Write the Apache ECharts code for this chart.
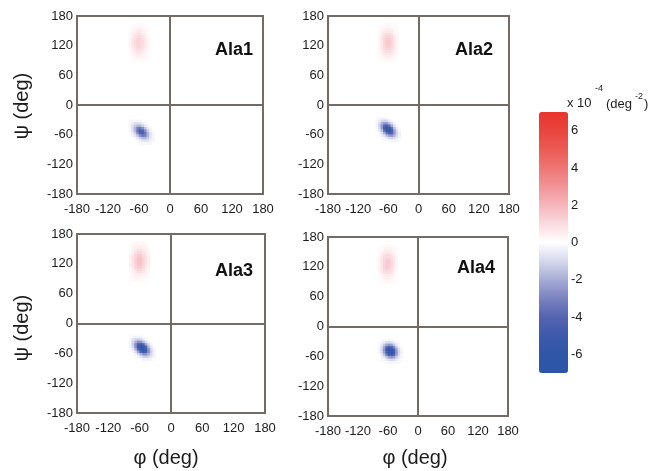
<!DOCTYPE html>
<html><head><meta charset="utf-8">
<script src="https://cdn.jsdelivr.net/npm/echarts@6/dist/echarts.min.js"></script>
<style>html,body{margin:0;padding:0;background:#fff}#c{width:651px;height:471px}</style>
</head><body><div id="c"></div>
<script>
// ---------------- data ----------------
const panelNames = ['Ala1', 'Ala2', 'Ala3', 'Ala4'];
const axisTicks = [-180, -120, -60, 0, 60, 120, 180];
const colorbarTicks = [-6, -4, -2, 0, 2, 4, 6];
const colorRange = [-7, 7];
const cellDeg = 5;
const xAxisTitle = 'φ (deg)';
const yAxisTitle = 'ψ (deg)';

// centre (phi, psi) of the top-left cell of each matrix
const blueOrigin = [[-77.5, -32.5], [-82.5, -27.5], [-77.5, -27.5], [-77.5, -27.5]];
const redOrigin = [[-77.5, 162.5], [-77.5, 162.5], [-77.5, 162.5], [-77.5, 162.5]];

// negative density difference (alpha-helix region), 5 deg cells, rows = psi decreasing
const blueAla1 = [
  [-0.1,-0.2,-0.2,-0.2,-0.2,-0.1,0,0,0,0],
  [-0.2,-0.4,-0.7,-0.8,-0.7,-0.4,-0.2,0,0,0],
  [-0.2,-0.7,-1.3,-1.8,-1.8,-1.2,-0.6,-0.2,0,0],
  [-0.2,-0.8,-1.8,-3.0,-3.4,-2.7,-1.5,-0.6,-0.2,0],
  [-0.2,-0.7,-1.8,-3.4,-4.6,-4.2,-2.7,-1.2,-0.4,-0.1],
  [-0.1,-0.4,-1.2,-2.7,-4.2,-4.6,-3.4,-1.8,-0.7,-0.2],
  [0,-0.2,-0.6,-1.5,-2.7,-3.4,-3.0,-1.8,-0.8,-0.2],
  [0,0,-0.2,-0.6,-1.2,-1.8,-1.8,-1.3,-0.7,-0.2],
  [0,0,0,-0.2,-0.4,-0.7,-0.8,-0.7,-0.4,-0.2],
  [0,0,0,0,-0.1,-0.2,-0.2,-0.2,-0.2,-0.1]
];
const blueAla2 = [
  [-0.1,-0.2,-0.3,-0.3,-0.2,-0.1,0,0,0,0],
  [-0.2,-0.5,-0.9,-1.1,-0.9,-0.5,-0.2,-0.1,0,0],
  [-0.3,-0.9,-1.8,-2.5,-2.4,-1.6,-0.8,-0.3,-0.1,0],
  [-0.3,-1.1,-2.5,-4.0,-4.6,-3.6,-2.0,-0.8,-0.2,0],
  [-0.2,-0.9,-2.4,-4.6,-6.1,-5.6,-3.6,-1.6,-0.5,-0.1],
  [-0.1,-0.5,-1.6,-3.6,-5.6,-6.1,-4.6,-2.4,-0.9,-0.2],
  [0,-0.2,-0.8,-2.0,-3.6,-4.6,-4.0,-2.5,-1.1,-0.3],
  [0,-0.1,-0.3,-0.8,-1.6,-2.4,-2.5,-1.8,-0.9,-0.3],
  [0,0,-0.1,-0.2,-0.5,-0.9,-1.1,-0.9,-0.5,-0.2],
  [0,0,0,0,-0.1,-0.2,-0.3,-0.3,-0.2,-0.1]
];
const blueAla3 = [
  [-0.1,-0.2,-0.3,-0.3,-0.3,-0.1,0,0,0,0],
  [-0.2,-0.6,-1.0,-1.2,-1.0,-0.6,-0.2,-0.1,0,0],
  [-0.3,-1.0,-1.9,-2.7,-2.6,-1.8,-0.9,-0.3,-0.1,0],
  [-0.3,-1.2,-2.7,-4.4,-5.0,-4.0,-2.2,-0.9,-0.2,0],
  [-0.3,-1.0,-2.6,-5.0,-6.6,-6.2,-4.0,-1.8,-0.6,-0.1],
  [-0.1,-0.6,-1.8,-4.0,-6.2,-6.6,-5.0,-2.6,-1.0,-0.3],
  [0,-0.2,-0.9,-2.2,-4.0,-5.0,-4.4,-2.7,-1.2,-0.3],
  [0,-0.1,-0.3,-0.9,-1.8,-2.6,-2.7,-1.9,-1.0,-0.3],
  [0,0,-0.1,-0.2,-0.6,-1.0,-1.2,-1.0,-0.6,-0.2],
  [0,0,0,0,-0.1,-0.3,-0.3,-0.3,-0.2,-0.1]
];
const blueAla4 = [
  [0,-0.1,-0.2,-0.2,-0.3,-0.2,-0.1,0,0,0],
  [-0.1,-0.2,-0.5,-0.9,-1.0,-0.8,-0.5,-0.2,-0.1,0],
  [-0.2,-0.5,-1.3,-2.2,-2.6,-2.3,-1.4,-0.6,-0.2,0],
  [-0.2,-0.9,-2.2,-3.9,-4.9,-4.5,-3.0,-1.4,-0.5,-0.1],
  [-0.3,-1.0,-2.6,-4.9,-6.7,-6.5,-4.5,-2.3,-0.8,-0.2],
  [-0.2,-0.8,-2.3,-4.5,-6.5,-6.7,-4.9,-2.6,-1.0,-0.3],
  [-0.1,-0.5,-1.4,-3.0,-4.5,-4.9,-3.9,-2.2,-0.9,-0.2],
  [0,-0.2,-0.6,-1.4,-2.3,-2.6,-2.2,-1.3,-0.5,-0.2],
  [0,-0.1,-0.2,-0.5,-0.8,-1.0,-0.9,-0.5,-0.2,-0.1],
  [0,0,0,-0.1,-0.2,-0.3,-0.2,-0.2,-0.1,0]
];

// positive density difference (PPII / beta region), 5 deg cells
const redAla1 = [
  [0,0.1,0.1,0.1,0.1,0.1,0.1,0],
  [0.1,0.1,0.2,0.2,0.2,0.2,0.1,0.1],
  [0.1,0.2,0.3,0.4,0.4,0.3,0.2,0.1],
  [0.1,0.3,0.4,0.6,0.6,0.4,0.3,0.1],
  [0.2,0.4,0.6,0.8,0.8,0.6,0.4,0.2],
  [0.2,0.5,0.8,1.0,1.0,0.8,0.5,0.2],
  [0.3,0.6,0.9,1.2,1.2,0.9,0.6,0.3],
  [0.3,0.6,1.0,1.2,1.2,1.0,0.6,0.3],
  [0.3,0.6,1.0,1.2,1.2,1.0,0.6,0.3],
  [0.3,0.6,0.9,1.2,1.2,0.9,0.6,0.3],
  [0.2,0.5,0.8,1.0,1.0,0.8,0.5,0.2],
  [0.2,0.4,0.6,0.8,0.8,0.6,0.4,0.2],
  [0.1,0.3,0.4,0.6,0.6,0.4,0.3,0.1],
  [0.1,0.2,0.3,0.4,0.4,0.3,0.2,0.1],
  [0.1,0.1,0.2,0.2,0.2,0.2,0.1,0.1],
  [0,0.1,0.1,0.1,0.1,0.1,0.1,0]
];
const redAla2 = [
  [0,0.1,0.1,0.2,0.2,0.1,0.1,0],
  [0.1,0.1,0.2,0.3,0.3,0.2,0.1,0.1],
  [0.1,0.2,0.4,0.5,0.5,0.4,0.2,0.1],
  [0.2,0.3,0.6,0.7,0.7,0.6,0.3,0.2],
  [0.2,0.5,0.8,1.0,1.0,0.8,0.5,0.2],
  [0.3,0.6,1.0,1.2,1.2,1.0,0.6,0.3],
  [0.3,0.7,1.1,1.4,1.4,1.1,0.7,0.3],
  [0.3,0.7,1.2,1.5,1.5,1.2,0.7,0.3],
  [0.3,0.7,1.2,1.5,1.5,1.2,0.7,0.3],
  [0.3,0.7,1.1,1.4,1.4,1.1,0.7,0.3],
  [0.3,0.6,1.0,1.2,1.2,1.0,0.6,0.3],
  [0.2,0.5,0.8,1.0,1.0,0.8,0.5,0.2],
  [0.2,0.3,0.6,0.7,0.7,0.6,0.3,0.2],
  [0.1,0.2,0.4,0.5,0.5,0.4,0.2,0.1],
  [0.1,0.1,0.2,0.3,0.3,0.2,0.1,0.1],
  [0,0.1,0.1,0.2,0.2,0.1,0.1,0]
];
const redAla3 = [
  [0,0.1,0.2,0.2,0.2,0.2,0.1,0],
  [0.1,0.2,0.3,0.3,0.3,0.3,0.2,0.1],
  [0.1,0.3,0.4,0.5,0.5,0.4,0.3,0.1],
  [0.2,0.4,0.6,0.8,0.8,0.6,0.4,0.2],
  [0.2,0.5,0.8,1.1,1.1,0.8,0.5,0.2],
  [0.3,0.6,1.1,1.4,1.4,1.1,0.6,0.3],
  [0.4,0.8,1.2,1.6,1.6,1.2,0.8,0.4],
  [0.4,0.8,1.3,1.7,1.7,1.3,0.8,0.4],
  [0.4,0.8,1.3,1.7,1.7,1.3,0.8,0.4],
  [0.4,0.8,1.2,1.6,1.6,1.2,0.8,0.4],
  [0.3,0.6,1.1,1.4,1.4,1.1,0.6,0.3],
  [0.2,0.5,0.8,1.1,1.1,0.8,0.5,0.2],
  [0.2,0.4,0.6,0.8,0.8,0.6,0.4,0.2],
  [0.1,0.3,0.4,0.5,0.5,0.4,0.3,0.1],
  [0.1,0.2,0.3,0.3,0.3,0.3,0.2,0.1],
  [0,0.1,0.2,0.2,0.2,0.2,0.1,0]
];
const redAla4 = [
  [0,0.1,0.1,0.2,0.2,0.1,0.1,0],
  [0.1,0.1,0.2,0.3,0.3,0.2,0.1,0.1],
  [0.1,0.2,0.4,0.5,0.5,0.4,0.2,0.1],
  [0.2,0.3,0.6,0.7,0.7,0.5,0.3,0.1],
  [0.2,0.5,0.8,1.0,1.0,0.8,0.5,0.2],
  [0.3,0.6,1.0,1.2,1.2,1.0,0.6,0.3],
  [0.3,0.7,1.1,1.4,1.4,1.1,0.7,0.3],
  [0.3,0.7,1.2,1.5,1.5,1.2,0.7,0.3],
  [0.3,0.7,1.2,1.5,1.4,1.2,0.7,0.3],
  [0.3,0.7,1.1,1.4,1.3,1.0,0.6,0.3],
  [0.3,0.6,1.0,1.2,1.1,0.9,0.5,0.2],
  [0.2,0.5,0.8,0.9,0.9,0.7,0.4,0.2],
  [0.2,0.3,0.5,0.7,0.6,0.5,0.3,0.1],
  [0.1,0.2,0.4,0.5,0.4,0.3,0.2,0.1],
  [0.1,0.1,0.2,0.3,0.3,0.2,0.1,0.1],
  [0,0.1,0.1,0.2,0.1,0.1,0.1,0]
];
const blueData = [blueAla1, blueAla2, blueAla3, blueAla4];
const redData = [redAla1, redAla2, redAla3, redAla4];

// ---------------- layout / style ----------------
const rects = [
  {left: 77, top: 16, width: 186, height: 178},
  {left: 328, top: 16, width: 181, height: 178},
  {left: 77, top: 234, width: 188, height: 179},
  {left: 328, top: 237, width: 180, height: 179}
];
const titlePos = [[253, 50], [493, 50], [253, 271], [495, 268]];
const FONT = 'Liberation Sans, Arial, sans-serif';
const frameColor = '#736b66';
const textColor = '#1c1c1c';
const cmap = ['#2c55a8','#3056a8','#3d5aab','#5563b0','#7a82c0','#a7acd6','#d5d7ec','#ffffff',
              '#fadbdf','#f5b6bc','#f19498','#ee7674','#eb5a55','#e9443e','#e8342d'];

const nBins = 360 / cellDeg;
const binCats = [];
for (let k = 0; k < nBins; k++) binCats.push(String(-180 + cellDeg / 2 + k * cellDeg));

function toCells(matrix, origin, out) {
  matrix.forEach((row, j) => row.forEach((v, i) => {
    if (v === 0) return;
    const phi = origin[0] + i * cellDeg;
    const psi = origin[1] - j * cellDeg;
    out.push([Math.round((phi + 180 - cellDeg / 2) / cellDeg), Math.round((psi + 180 - cellDeg / 2) / cellDeg), v]);
  }));
  return out;
}

const grids = [], xAxes = [], yAxes = [], series = [], graphics = [];
const heatIdx = [];
rects.forEach((r, p) => {
  grids.push(Object.assign({}, r));
  grids.push(Object.assign({show: true, borderColor: frameColor, borderWidth: 2, backgroundColor: 'transparent'}, r));
  xAxes.push({type: 'category', gridIndex: 2 * p, data: binCats, show: false});
  yAxes.push({type: 'category', gridIndex: 2 * p, data: binCats, show: false});
  xAxes.push({type: 'value', gridIndex: 2 * p + 1, min: -180, max: 180, interval: 60,
    axisLine: {show: false}, axisTick: {show: false}, splitLine: {show: false},
    axisLabel: {color: textColor, fontSize: 13, fontFamily: FONT, margin: 9}});
  yAxes.push({type: 'value', gridIndex: 2 * p + 1, min: -180, max: 180, interval: 60,
    axisLine: {show: false}, axisTick: {show: false}, splitLine: {show: false},
    axisLabel: {color: textColor, fontSize: 13, fontFamily: FONT, margin: 4}});
  const cells = [];
  toCells(blueData[p], blueOrigin[p], cells);
  toCells(redData[p], redOrigin[p], cells);
  heatIdx.push(series.length);
  series.push({type: 'heatmap', name: panelNames[p], xAxisIndex: 2 * p, yAxisIndex: 2 * p,
    data: cells, emphasis: {disabled: true}, silent: true, z: 2});
  series.push({type: 'scatter', xAxisIndex: 2 * p + 1, yAxisIndex: 2 * p + 1, data: [], z: 4, silent: true,
    markLine: {silent: true, symbol: 'none', animation: false, label: {show: false},
      lineStyle: {color: frameColor, width: 2, type: 'solid'},
      data: [{xAxis: 0}, {yAxis: 0}]}});
  graphics.push({type: 'text', x: titlePos[p][0], y: titlePos[p][1], z: 10,
    style: {text: panelNames[p], font: 'bold 18px ' + FONT, fill: '#111', textAlign: 'right', textVerticalAlign: 'middle'}});
});

// colour bar tick labels
grids.push({left: 539, top: 112, width: 29, height: 261});
xAxes.push({type: 'value', gridIndex: 8, show: false, min: 0, max: 1});
yAxes.push({type: 'value', gridIndex: 8, position: 'right', min: colorRange[0], max: colorRange[1],
  axisLine: {show: false}, splitLine: {show: false}, axisTick: {show: false},
  axisLabel: {color: textColor, fontSize: 13, fontFamily: FONT, margin: 3, customValues: colorbarTicks}});

// axis titles & colour bar caption
[[22, 106], [22, 328]].forEach(pt => graphics.push({type: 'text', x: pt[0], y: pt[1], rotation: Math.PI / 2,
  style: {text: yAxisTitle, font: '20px ' + FONT, fill: textColor, textAlign: 'center', textVerticalAlign: 'middle'}}));
[[166, 458], [415, 458]].forEach(pt => graphics.push({type: 'text', x: pt[0], y: pt[1],
  style: {text: xAxisTitle, font: '20px ' + FONT, fill: textColor, textAlign: 'center', textVerticalAlign: 'middle'}}));
graphics.push({type: 'text', x: 567, y: 103, style: {text: 'x 10', font: '13px ' + FONT, fill: textColor, textVerticalAlign: 'middle'}});
graphics.push({type: 'text', x: 595, y: 89, style: {text: '-4', font: '9px ' + FONT, fill: textColor, textVerticalAlign: 'middle'}});
graphics.push({type: 'text', x: 606, y: 104, style: {text: '(deg', font: '13px ' + FONT, fill: textColor, textVerticalAlign: 'middle'}});
graphics.push({type: 'text', x: 635, y: 97, style: {text: '-2', font: '9px ' + FONT, fill: textColor, textVerticalAlign: 'middle'}});
graphics.push({type: 'text', x: 644, y: 104, style: {text: ')', font: '13px ' + FONT, fill: textColor, textVerticalAlign: 'middle'}});

const chart = echarts.init(document.getElementById('c'), null, {renderer: 'canvas'});
chart.setOption({
  animation: false,
  backgroundColor: '#ffffff',
  textStyle: {fontFamily: FONT},
  grid: grids, xAxis: xAxes, yAxis: yAxes, series: series, graphic: graphics,
  visualMap: {type: 'continuous', min: colorRange[0], max: colorRange[1], seriesIndex: heatIdx,
    calculable: false, show: true, left: 539, top: 112, itemWidth: 29, itemHeight: 261, padding: 0,
    orient: 'vertical', text: null, inRange: {color: cmap}, z: 4}
});
</script></body></html>
